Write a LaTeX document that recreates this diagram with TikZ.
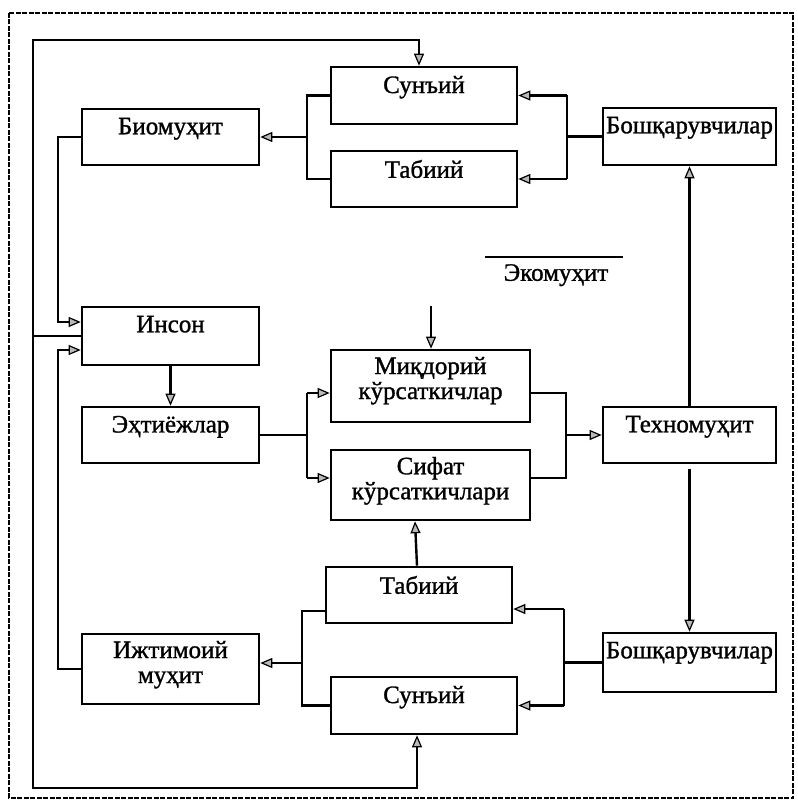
\documentclass[tikz,border=0pt]{standalone}
\usepackage{fontspec}
\setmainfont[FakeBold=1.2]{Liberation Serif}
\usetikzlibrary{arrows.meta}
\begin{document}
\begin{tikzpicture}[x=1pt,y=-1pt]
\tikzset{
  blk/.style={draw, line width=2.6pt, inner sep=0pt},
  lbl/.style={font=\fontsize{25}{25}\selectfont, align=center, anchor=north, inner sep=0pt},
  wire/.style={line width=2.4pt},
  arr/.style={wire, -{Triangle[length=12pt,width=10pt,fill=gray!55,line width=1.2pt]}},
}
\fill[white] (0,0) rectangle (797,802);
\useasboundingbox (0,0) rectangle (797,802);

% dashed outer frame
\draw[line width=2.4pt, dash pattern=on 5pt off 1.5pt] (9,13) rectangle (793,798);

% upper block
\node[blk, minimum width=186pt, minimum height=57pt] (sun1) at (424,95.5) {};
\node[blk, minimum width=186pt, minimum height=56pt] (tab1) at (424,179) {};
\node[blk, minimum width=177pt, minimum height=56pt] (bio) at (170.5,137) {};
\node[blk, minimum width=173pt, minimum height=57pt] (bosh1) at (689.5,136.5) {};

% middle block
\node[blk, minimum width=177pt, minimum height=58pt] (ins) at (170.5,336) {};
\node[blk, minimum width=177pt, minimum height=56pt] (ext) at (170.5,435) {};
\node[blk, minimum width=199pt, minimum height=72pt] (miq) at (430.5,386) {};
\node[blk, minimum width=199pt, minimum height=70pt] (sif) at (430.5,485) {};
\node[blk, minimum width=173pt, minimum height=56pt] (tex) at (689.5,435) {};

% lower block
\node[blk, minimum width=186pt, minimum height=56pt] (tab2) at (419,595) {};
\node[blk, minimum width=186pt, minimum height=57pt] (sun2) at (424,705.5) {};
\node[blk, minimum width=177pt, minimum height=70pt] (ijt) at (170.5,669) {};
\node[blk, minimum width=173pt, minimum height=59pt] (bosh2) at (689.5,662.5) {};

% labels
\node[lbl] (sun1-t) at ([yshift=-10pt]sun1.north) {Сунъий};
\node[lbl] (tab1-t) at ([yshift=-10pt]tab1.north) {Табиий};
\node[lbl] (bio-t) at ([yshift=-10pt]bio.north) {Биомуҳит};
\node[lbl] (bosh1-t) at ([yshift=-10pt]bosh1.north) {Бошқарувчилар};
\node[lbl] (ins-t) at ([yshift=-10pt]ins.north) {Инсон};
\node[lbl] (ext-t) at ([yshift=-10pt]ext.north) {Эҳтиёжлар};
\node[lbl] (miq-t) at ([yshift=-8pt]miq.north) {Миқдорий\\кўрсаткичлар};
\node[lbl] (sif-t) at ([yshift=-8pt]sif.north) {Сифат\\кўрсаткичлари};
\node[lbl] (tex-t) at ([yshift=-10pt]tex.north) {Техномуҳит};
\node[lbl] (tab2-t) at ([yshift=-10pt]tab2.north) {Табиий};
\node[lbl] (sun2-t) at ([yshift=-10pt]sun2.north) {Сунъий};
\node[lbl] (ijt-t) at ([yshift=-8pt]ijt.north) {Ижтимоий\\муҳит};
\node[lbl] (bosh2-t) at ([yshift=-10pt]bosh2.north) {Бошқарувчилар};

% eco-environment caption
\coordinate (eco-l) at (485,257);
\coordinate (eco-r) at (623,257);
\draw[wire] (eco-l) -- (eco-r);
\node[lbl] (eco) at (556,264) {Экомуҳит};

% upper connectors
\coordinate (bt1) at (307,95.5);
\coordinate (bt2) at (307,179);
\coordinate (bt3) at (307,137);
\draw[wire] (sun1.west) -- (bt1) -- (bt2) -- (tab1.west);
\draw[arr] (bt3) -- (bio.east);
\coordinate (bb1) at (567,95.5);
\coordinate (bb2) at (567,179);
\coordinate (bb3) at (567,136.5);
\draw[wire] (bosh1.west) -- (bb3);
\draw[wire] (bb1) -- (bb2);
\draw[arr] (bb1) -- (sun1.east);
\draw[arr] (bb2) -- (tab1.east);

% human links
\coordinate (hl1) at (58,137);
\coordinate (hl2) at (58,322);
\draw[arr] (bio.west) -- (hl1) -- (hl2) -- ([yshift=14pt]ins.west);
\coordinate (hl3) at (58,669);
\coordinate (hl4) at (58,350);
\draw[arr] (ijt.west) -- (hl3) -- (hl4) -- ([yshift=-14pt]ins.west);

% outer loop
\coordinate (lp1) at (33,336);
\coordinate (lp2) at (33,40);
\coordinate (lp3) at (419,40);
\coordinate (lp4) at (33,788);
\coordinate (lp5) at (417,788);
\draw[arr] (ins.west) -- (lp1) -- (lp2) -- (lp3) -- ([xshift=-5pt]sun1.north);
\draw[arr] (lp1) -- (lp4) -- (lp5) -- ([xshift=-7pt]sun2.south);

% needs and indicators
\draw[arr] (ins.south) -- (ext.north);
\coordinate (ne1) at (307,435);
\coordinate (ne2) at (307,393);
\coordinate (ne3) at (307,478);
\draw[wire] (ext.east) -- (ne1);
\draw[wire] (ne2) -- (ne3);
\draw[arr] (ne2) -- ([yshift=-7pt]miq.west);
\draw[arr] (ne3) -- ([yshift=7pt]sif.west);
\coordinate (mq0) at (431,306);
\draw[arr] (mq0) -- ([xshift=0.5pt]miq.north);
\coordinate (ir1) at (566,393);
\coordinate (ir2) at (566,478);
\coordinate (ir3) at (566,435);
\draw[wire] ([yshift=-7pt]miq.east) -- (ir1) -- (ir2) -- ([yshift=7pt]sif.east);
\draw[arr] (ir3) -- (tex.west);

% techno-environment controls
\draw[arr] (tex.north) -- (bosh1.south);
\draw[arr] ([yshift=-5pt]tex.south) -- (bosh2.north);

% lower connectors
\coordinate (lb1) at (564,609);
\coordinate (lb2) at (564,705.5);
\coordinate (lb3) at (564,662.5);
\draw[wire] (bosh2.west) -- (lb3);
\draw[wire] (lb1) -- (lb2);
\draw[arr] (lb1) -- ([yshift=-14pt]tab2.east);
\draw[arr] (lb2) -- (sun2.east);
\draw[arr] ([xshift=-2pt]tab2.north) -- ([xshift=-15.5pt]sif.south);
\coordinate (ll1) at (302,611);
\coordinate (ll2) at (302,705.5);
\coordinate (ll3) at (302,663);
\draw[wire] ([yshift=-16pt]tab2.west) -- (ll1) -- (ll2) -- (sun2.west);
\draw[arr] (ll3) -- ([yshift=6pt]ijt.east);
\end{tikzpicture}
\end{document}
